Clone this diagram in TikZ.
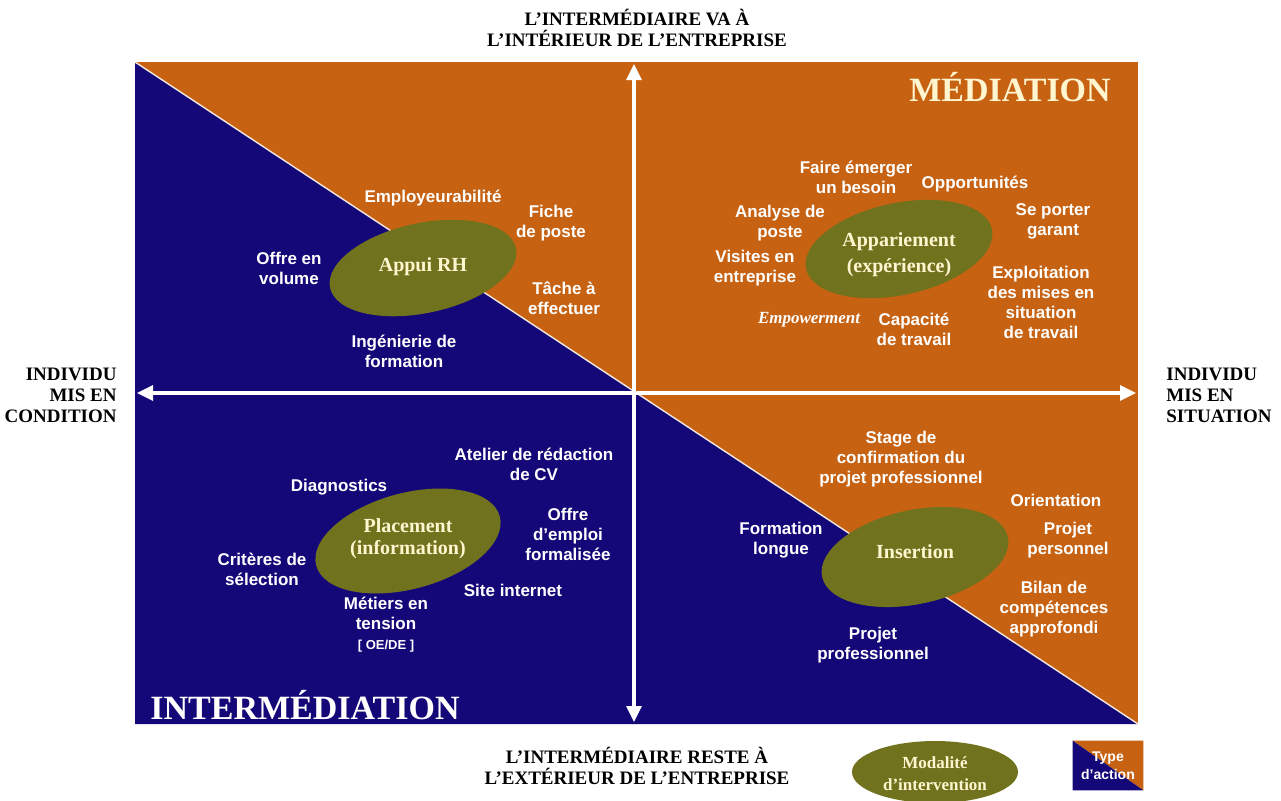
\documentclass[tikz,border=0pt]{standalone}
\usepackage{fontspec}
\setmainfont{Liberation Serif}
\setsansfont{Liberation Sans}
\usetikzlibrary{arrows.meta,shapes.geometric}

\definecolor{MediationColor}{RGB}{198,98,18}
\definecolor{IntermediationColor}{RGB}{20,8,120}
\definecolor{ModaliteColor}{RGB}{113,114,30}
\definecolor{CreamColor}{RGB}{255,246,208}

\begin{document}
\begin{tikzpicture}[x=0.5pt, y=-0.5pt,
		action/.style={text=white, align=center, inner sep=0pt, font=\sffamily\bfseries\fontsize{8.5}{10}\selectfont},
		modality/.style={ellipse, fill=ModaliteColor, inner sep=0pt, minimum width=95pt},
		modalitytext/.style={text=CreamColor, align=center, inner sep=0pt, font=\bfseries\fontsize{10}{13}\selectfont},
		axis/.style={white, line width=1.6pt, {Triangle[width=7.5pt,length=8pt]}-{Triangle[width=7.5pt,length=8pt]}},
		axislabel/.style={align=center, inner sep=0pt, font=\bfseries\fontsize{9.5}{10.5}\selectfont},
		quadrant/.style={inner sep=0pt, font=\bfseries\fontsize{17}{20}\selectfont}
	]
	\useasboundingbox (0,0) rectangle (1281,800);

	% Background
	\coordinate (nw) at (135,62);
	\coordinate (ne) at (1138,62);
	\coordinate (se) at (1138,724);
	\coordinate (sw) at (135,724);
	\fill[MediationColor] (nw) rectangle (se);
	\fill[IntermediationColor] (nw) -- (sw) -- (se) -- cycle;
	\draw[white!85!MediationColor, line width=0.7pt] (nw) -- (se);

	% Axes
	\coordinate (top) at (634,64);
	\coordinate (bottom) at (634,722);
	\coordinate (left) at (137,393);
	\coordinate (right) at (1136,393);
	\draw[axis] (bottom) -- (top);
	\draw[axis] (left) -- (right);

	% Axis labels
	\node[axislabel] (inside) at (637,28) {L’INTERMÉDIAIRE VA À\\L’INTÉRIEUR DE L’ENTREPRISE};
	\node[axislabel] (outside) at (637,766) {L’INTERMÉDIAIRE RESTE À\\L’EXTÉRIEUR DE L’ENTREPRISE};
	\node[axislabel, anchor=east, align=right] (condition) at (117,395) {INDIVIDU\\MIS EN\\CONDITION};
	\node[axislabel, anchor=west, align=left] (situation) at (1166,395) {INDIVIDU\\MIS EN\\SITUATION};

	% Types of action
	\node[quadrant, text=CreamColor] (mediation) at (1010,87) {MÉDIATION};
	\node[quadrant, text=white] (intermediation) at (305,705) {INTERMÉDIATION};

	% Modalities
	\node[modality, rotate=12, minimum height=45pt] (appui) at (423,268) {};
	\node[modalitytext] (appuitext) at (423,267) {Appui RH};
	\node[modality, rotate=12, minimum height=46pt] (appariement) at (899,249) {};
	\node[modalitytext] (appariementtext) at (899,255) {Appariement\\(expérience)};
	\node[modality, rotate=15, minimum height=48pt] (placement) at (408,541) {};
	\node[modalitytext, font=\bfseries\fontsize{10}{11}\selectfont] (placementtext) at (408,539) {Placement\\(information)};
	\node[modality, rotate=12, minimum height=47pt] (insertion) at (915,557) {};
	\node[modalitytext] (insertiontext) at (915,552) {Insertion};

	% Upper left
	\node[action] (employ) at (433,198) {Employeurabilité};
	\node[action] (fiche) at (551,223) {Fiche\\de poste};
	\node[action] (tache) at (564,298) {Tâche à\\effectuer};
	\node[action] (volume) at (289,268) {Offre en\\volume};
	\node[action] (ingenierie) at (404,351) {Ingénierie de\\formation};

	% Upper right
	\node[action] (emerger) at (856,177) {Faire émerger\\un besoin};
	\node[action] (opportun) at (975,184) {Opportunités};
	\node[action] (analyse) at (780,223) {Analyse de\\poste};
	\node[action] (garant) at (1053,221) {Se porter\\garant};
	\node[action] (visites) at (755,268) {Visites en\\entreprise};
	\node[action] (exploit) at (1041,302) {Exploitation\\des mises en\\situation\\de travail};
	\node[action, font=\bfseries\itshape\fontsize{8.5}{10}\selectfont] (empower) at (809,320) {Empowerment};
	\node[action] (capacite) at (914,329) {Capacité\\de travail};

	% Lower left
	\node[action] (atelier) at (534,464) {Atelier de rédaction\\de CV};
	\node[action] (diagnostics) at (339,487) {Diagnostics};
	\node[action] (offre) at (568,534) {Offre\\d’emploi\\formalisée};
	\node[action] (criteres) at (262,569) {Critères de\\sélection};
	\node[action] (site) at (513,590) {Site internet};
	\node[action] (metiers) at (386,625) {Métiers en\\tension\\{\fontsize{6.5}{10}\selectfont[ OE/DE ]}};

	% Lower right
	\node[action] (stage) at (901,459) {Stage de\\confirmation du\\projet professionnel};
	\node[action] (orientation) at (1056,500) {Orientation};
	\node[action] (longue) at (781,540) {Formation\\longue};
	\node[action] (perso) at (1068,540) {Projet\\personnel};
	\node[action] (bilan) at (1054,609) {Bilan de\\compétences\\approfondi};
	\node[action] (pro) at (873,645) {Projet\\professionnel};

	% Legend
	\node[modality, minimum width=83pt, minimum height=31pt] (legendmod) at (935,772) {};
	\node[modalitytext, font=\bfseries\fontsize{8.5}{11}\selectfont] (legendmodtext) at (935,774) {Modalité\\d’intervention};
	\path node[minimum width=35pt, minimum height=24.5pt, inner sep=0pt] (legendtype) at (1108,765.5) {};
	\fill[MediationColor] (legendtype.north west) -- (legendtype.north east) -- (legendtype.south east) -- cycle;
	\fill[IntermediationColor] (legendtype.north west) -- (legendtype.south west) -- (legendtype.south east) -- cycle;
	\node[action, font=\sffamily\bfseries\fontsize{7}{9}\selectfont] (legendtypetext) at (legendtype) {Type\\d’action};

\end{tikzpicture}
\end{document}
